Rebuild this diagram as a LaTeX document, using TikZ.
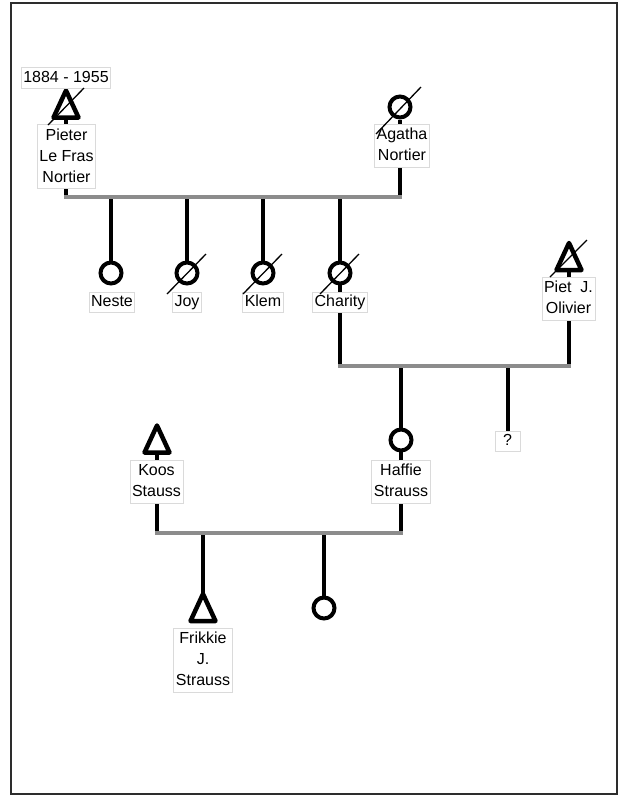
\documentclass[tikz,border=0pt]{standalone}
\usepackage{fontspec}
\setmainfont{Liberation Sans}
\usetikzlibrary{calc}
\definecolor{bargray}{RGB}{140,140,140}
\definecolor{boxgray}{RGB}{218,218,218}
\definecolor{framegray}{RGB}{45,45,45}
\newcommand\sstrut{\rule[-5pt]{0pt}{18.5pt}}
\newcommand\lstrut{\rule[-5.5pt]{0pt}{20pt}}
\newcommand\trisymbol[1]{\draw[trisym] (#1) ++(0,-13.5) -- ++(12.5,27) -- ++(-25,0) -- cycle;}
\pgfdeclarelayer{bg}
\pgfsetlayers{bg,main}
\begin{document}
\begin{tikzpicture}[x=1pt,y=-1pt,
  stem/.style={line width=4pt},
  bar/.style={line width=4pt,draw=bargray,line cap=rect},
  circsym/.style={circle,draw,line width=4pt,fill=white,minimum size=21pt,inner sep=0pt},
  trisym/.style={draw,line width=4.5pt,fill=white,line join=round},
  slash/.style={line width=1.3pt},
  lbl/.style={draw=boxgray,line width=0.8pt,fill=white,inner xsep=2pt,inner ysep=1pt,align=center,font=\fontsize{16}{21}\selectfont},
]
\useasboundingbox (0,0) rectangle (619,796);
\draw[framegray,line width=2pt] (11,3) rectangle (617,794);

% bar reference coordinates
\coordinate (b1) at (0,197);
\coordinate (b2) at (0,366);
\coordinate (b3) at (0,533);

% symbols
\coordinate (pieter) at (66,104);
\node[circsym] (agatha) at (400,107) {};
\node[circsym] (neste) at (111,273) {};
\node[circsym] (joy) at (187,273) {};
\node[circsym] (klem) at (263,273) {};
\node[circsym] (charity) at (340,273) {};
\coordinate (piet) at (569,256.5);
\node[circsym] (haffie) at (401,440) {};
\coordinate (koos) at (157,439);
\coordinate (frikkie) at (203,607.5);
\node[circsym] (baby) at (324,608) {};

\trisymbol{pieter}
\trisymbol{piet}
\trisymbol{koos}
\trisymbol{frikkie}

% labels
\node[lbl] (pieterY) at (66,78) {\sstrut 1884 - 1955};
\node[lbl] (pieterL) at (66.5,156.5) {\lstrut Pieter\\Le Fras\\Nortier\lstrut};
\node[lbl] (agathaL) at (402,145.5) {\lstrut Agatha\\Nortier\lstrut};
\node[lbl] (nesteL) at (112,302.5) {\sstrut Neste};
\node[lbl] (joyL) at (187,302.5) {\sstrut Joy};
\node[lbl] (klemL) at (263,302.5) {\sstrut Klem};
\node[lbl] (charityL) at (340,302.5) {\sstrut Charity};
\node[lbl] (pietL) at (568.5,298.5) {\lstrut Piet\ \ J.\\Olivier\lstrut};
\node[lbl,minimum width=25pt] (q) at (507.5,441.5) {\sstrut ?};
\node[lbl] (koosL) at (156.5,481.5) {\lstrut Koos\\Stauss\lstrut};
\node[lbl] (haffieL) at (401,481.5) {\lstrut Haffie\\Strauss\lstrut};
\node[lbl] (frikkieL) at (203,660) {\lstrut Frikkie\\J.\\Strauss\lstrut};

% connectors behind
\begin{pgfonlayer}{bg}
\draw[stem] (pieter) -- (pieter |- b1);
\draw[stem] (agatha) -- (agatha |- b1);
\draw[stem] (neste |- b1) -- (neste);
\draw[stem] (joy |- b1) -- (joy);
\draw[stem] (klem |- b1) -- (klem);
\draw[stem] (charity |- b1) -- (charity |- b2);
\draw[bar] (pieter |- b1) -- (agatha |- b1);

\draw[stem] (piet) -- (piet |- b2);
\draw[stem] (haffie |- b2) -- (haffie |- b3);
\draw[stem] (q |- b2) -- (q);
\draw[bar] (charity |- b2) -- (piet |- b2);

\draw[stem] (koos) -- (koos |- b3);
\draw[stem] (frikkie |- b3) -- (frikkie);
\draw[stem] (baby |- b3) -- (baby);
\draw[bar] (koos |- b3) -- (haffie |- b3);
\end{pgfonlayer}

% deceased slashes
\draw[slash] ($(pieter)+(-18,21)$) -- ($(pieter)+(18,-16)$);
\draw[slash] ($(piet)+(-19,20.5)$) -- ($(piet)+(18,-16.5)$);
\draw[slash] ($(agatha)+(-24,27)$) -- ($(agatha)+(21,-20)$);
\draw[slash] ($(joy)+(-20,21)$) -- ($(joy)+(19,-19)$);
\draw[slash] ($(klem)+(-20,21)$) -- ($(klem)+(19,-19)$);
\draw[slash] ($(charity)+(-20,21)$) -- ($(charity)+(19,-19)$);
\end{tikzpicture}
\end{document}
